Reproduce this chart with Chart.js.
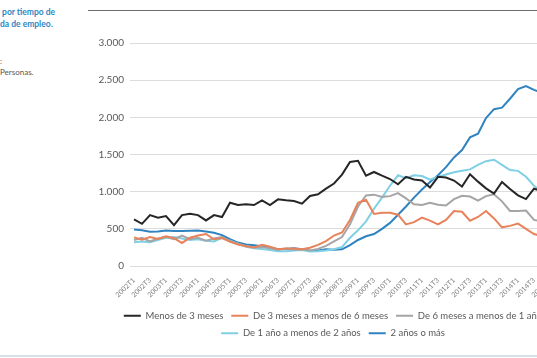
<!DOCTYPE html>
<html>
<head>
<meta charset="utf-8">
<script src="https://cdn.jsdelivr.net/npm/chart.js@4"></script>
<style>
  body { margin: 0; background: #fff; overflow: hidden; width: 537px; height: 358px; position: relative; font-family: Lato, "Open Sans", sans-serif; }
  .topline { position: absolute; left: 88px; right: 0; top: 10px; height: 0; border-top: 1.5px solid #6d6d6d; }
  .bottomline { position: absolute; left: 0; right: 0; top: 355px; height: 0; border-top: 2px solid #d5e2ea; }
  .caption { position: absolute; left: 0; top: 6px; color: #2d86c4; font-weight: bold; font-size: 8.5px; line-height: 12px; }
  .note { position: absolute; left: 0; top: 56px; color: #555; font-size: 8px; line-height: 11px; }
  #wrap { position: absolute; left: 88px; top: 12px; width: 500px; height: 336px; }
</style>
</head>
<body>
<div class="caption">&nbsp;por tiempo de<br>da de empleo.</div>
<div class="note">:<br>Personas.</div>
<div class="topline"></div>
<div class="bottomline"></div>
<div id="wrap"><canvas id="lineChart"></canvas></div>
<script>
// trimestres (EPA), miles de personas
const trimestres = [
  '2002T1', '2002T2', '2002T3', '2002T4', '2003T1', '2003T2', '2003T3', '2003T4',
  '2004T1', '2004T2', '2004T3', '2004T4', '2005T1', '2005T2', '2005T3', '2005T4',
  '2006T1', '2006T2', '2006T3', '2006T4', '2007T1', '2007T2', '2007T3', '2007T4',
  '2008T1', '2008T2', '2008T3', '2008T4', '2009T1', '2009T2', '2009T3', '2009T4',
  '2010T1', '2010T2', '2010T3', '2010T4', '2011T1', '2011T2', '2011T3', '2011T4',
  '2012T1', '2012T2', '2012T3', '2012T4', '2013T1', '2013T2', '2013T3', '2013T4',
  '2014T1', '2014T2', '2014T3', '2014T4', '2015T1', '2015T2', '2015T3', '2015T4'
];

const menos3Meses = [
  627, 567, 685, 649, 671, 550, 685, 703, 685, 613, 685, 658,
  851, 820, 829, 820, 883, 820, 897, 883, 874, 838, 942, 964,
  1040, 1110, 1230, 1400, 1415, 1215, 1265, 1215, 1170, 1100, 1200, 1165,
  1150, 1055, 1200, 1190, 1150, 1070, 1235, 1135, 1045, 975, 1130, 1035,
  950, 900, 1040, 1010, 960, 1000, 930, 890
];
const de3a6Meses = [
  385, 355, 390, 365, 400, 375, 310, 380, 410, 430, 360, 375,
  330, 290, 265, 250, 285, 260, 225, 235, 235, 225, 245, 285,
  335, 410, 450, 620, 850, 890, 700, 715, 715, 690, 560, 590,
  650, 610, 560, 620, 740, 730, 610, 660, 740, 640, 520, 540,
  570, 500, 430, 400, 390, 370, 350, 330
];
const de6a12Meses = [
  350, 380, 330, 370, 390, 360, 410, 360, 380, 340, 370, 390,
  330, 300, 270, 250, 255, 240, 220, 235, 220, 225, 210, 230,
  270, 330, 390, 560, 800, 950, 960, 930, 940, 980, 910, 830,
  820, 850, 825, 815, 900, 945, 935, 880, 940, 965, 870, 740,
  740, 745, 620, 600, 590, 560, 540, 520
];
const de1a2Anios = [
  320, 330, 320, 350, 380, 390, 370, 350, 360, 340, 330, 380,
  340, 300, 260, 240, 230, 215, 200, 200, 210, 215, 195, 200,
  210, 225, 255, 380, 480, 600, 770, 920, 1080, 1220, 1180, 1220,
  1210, 1160, 1200, 1230, 1260, 1280, 1300, 1360, 1410, 1430, 1360, 1290,
  1280, 1200, 1080, 1000, 950, 900, 870, 820
];
const dosAniosOMas = [
  490, 480, 460, 465, 478, 470, 470, 475, 478, 465, 446, 415,
  360, 315, 290, 280, 265, 245, 225, 230, 240, 225, 205, 210,
  225, 220, 225, 280, 350, 400, 430, 500, 580, 690, 800, 920,
  1030, 1130, 1220, 1330, 1460, 1560, 1730, 1780, 1990, 2110, 2130, 2250,
  2380, 2420, 2370, 2330, 2280, 2200, 2150, 2100
];

const etiquetas = [
  'Menos de 3 meses',
  'De 3 meses a menos de 6 meses',
  'De 6 meses a menos de 1 año',
  'De 1 año a menos de 2 años',
  '2 años o más'
];
const colores = ['#262626', '#e8825a', '#a5a5a5', '#7fd0e4', '#2f83c0'];
const series = [menos3Meses, de3a6Meses, de6a12Meses, de1a2Anios, dosAniosOMas];

Chart.defaults.font.family = 'Lato, "Open Sans", sans-serif';

const ctx = document.getElementById('lineChart').getContext('2d');
new Chart(ctx, {
  type: 'line',
  data: {
    labels: trimestres,
    datasets: series.map((data, i) => ({
      label: etiquetas[i],
      data,
      borderColor: colores[i],
      backgroundColor: colores[i],
      borderWidth: 2,
      pointRadius: 0,
      tension: 0
    }))
  },
  options: {
    responsive: true,
    maintainAspectRatio: false,
    animation: false,
    layout: { padding: { top: 31, right: 10, left: 0, bottom: 0 } },
    plugins: {
      tooltip: { enabled: false },
      legend: {
        position: 'bottom',
        labels: {
          usePointStyle: true,
          pointStyle: 'line',
          pointStyleWidth: 17,
          padding: 8,
          color: '#595959',
          font: { size: 9.5 }
        }
      }
    },
    scales: {
      x: {
        offset: true,
        grid: { display: false },
        border: { display: false },
        ticks: {
          autoSkip: false,
          minRotation: 45,
          maxRotation: 45,
          padding: 2,
          color: '#808080',
          font: { size: 7 },
          callback: function (value, index) {
            return index % 2 === 0 ? this.getLabelForValue(value) : '';
          }
        },
        afterFit: scale => { scale.height = 37; }
      },
      y: {
        min: 0,
        max: 3000,
        grid: { color: '#dcdcdc', drawTicks: false },
        border: { display: false },
        ticks: {
          stepSize: 500,
          padding: 6,
          color: '#595959',
          font: { size: 10 },
          callback: value => value.toString().replace(/\B(?=(\d{3})+(?!\d))/g, '.')
        },
        afterFit: scale => { scale.width = 42; }
      }
    }
  }
});
</script>
</body>
</html>
